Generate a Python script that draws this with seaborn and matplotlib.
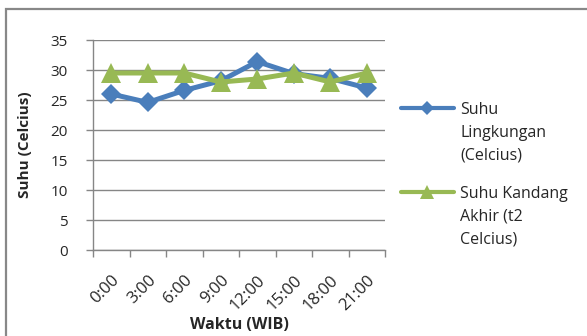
import matplotlib
matplotlib.use('Agg')
import matplotlib.pyplot as plt
import seaborn as sns
from matplotlib.lines import Line2D
from matplotlib.patches import Rectangle

# ---- data ----
times = ['0:00', '3:00', '6:00', '9:00', '12:00', '15:00', '18:00', '21:00']
suhu_lingkungan = [26.0, 24.6, 26.6, 28.2, 31.4, 29.4, 28.6, 27.0]
suhu_kandang = [29.5, 29.5, 29.5, 28.0, 28.5, 29.5, 28.0, 29.5]
legend_lines_1 = ['Suhu', 'Lingkungan', '(Celcius)']
legend_lines_2 = ['Suhu Kandang', 'Akhir (t2', 'Celcius)']
yticks = [0, 5, 10, 15, 20, 25, 30, 35]
xlabel = 'Waktu (WIB)'
ylabel = 'Suhu (Celcius)'

BLUE = '#4A7EBB'
GREEN = '#98B954'
GRID = '#868686'

sns.set_style('white')
plt.rcParams['font.family'] = ['Open Sans', 'DejaVu Sans']

W, H = 587, 336
fig = plt.figure(figsize=(W / 100, H / 100), dpi=100)
ax = fig.add_axes([93 / W, 86 / H, 292 / W, 210 / H])

sns.lineplot(x=times, y=suhu_lingkungan, color=BLUE, marker='D', markersize=10,
             markeredgewidth=0, linewidth=3.6, sort=False, ax=ax, zorder=3)
sns.lineplot(x=times, y=suhu_kandang, color=GREEN, marker='^', markersize=14.5,
             markeredgewidth=0, linewidth=3.6, sort=False, ax=ax, zorder=4)

ax.set_xlim(-0.5, len(times) - 0.5)
ax.set_ylim(0, 35)
ax.set_yticks(yticks)
ax.set_xticks(range(len(times)))
ax.set_xticklabels(times)
ax.set_xticks([i - 0.5 for i in range(len(times) + 1)], minor=True)

ax.yaxis.grid(True, color=GRID, linewidth=1)
ax.xaxis.grid(False)
for s in ['top', 'right']:
    ax.spines[s].set_visible(False)
for s in ['left', 'bottom']:
    ax.spines[s].set_color(GRID)
    ax.spines[s].set_linewidth(1)

ax.tick_params(axis='y', length=5, color=GRID, width=1, pad=13, labelsize=11, left=True)
ax.tick_params(axis='x', which='major', length=0, pad=16, labelsize=12, bottom=True)
ax.tick_params(axis='x', which='minor', length=5, color=GRID, width=1, bottom=True)
for lbl in ax.get_xticklabels():
    lbl.set_rotation(45)
    lbl.set_ha('right')
    lbl.set_va('top')
    lbl.set_rotation_mode('anchor')

ax.set_xlabel(xlabel, fontweight='bold', fontsize=11.5)
ax.xaxis.label.set_va('center')
ax.xaxis.set_label_coords(0.5, (250 - 325) / 210)
ax.set_ylabel(ylabel, fontweight='bold', fontsize=11)
ax.yaxis.label.set_va('center')
ax.yaxis.set_label_coords((25 - 93) / 292, 0.5)

# ---- legend (two stacked blocks) ----
def make_legend(lines, color, marker, ms, top_px):
    handles = [Line2D([], [], color=color, marker=marker, markersize=ms,
                      markeredgewidth=0, linewidth=3)]
    handles += [Line2D([], [], color='none') for _ in lines[1:]]
    leg = ax.legend(handles, lines, loc='upper left',
                    bbox_to_anchor=(401 / W, 1 - top_px / H),
                    bbox_transform=fig.transFigure, frameon=False,
                    fontsize=11.5, handlelength=3.3, handletextpad=0.4,
                    labelspacing=0.43, borderpad=0, borderaxespad=0)
    return leg

leg1 = make_legend(legend_lines_1, BLUE, 'D', 7, 102)
ax.add_artist(leg1)
leg2 = make_legend(legend_lines_2, GREEN, '^', 10, 186)

# ---- outer chart frame ----
fig.patches.append(Rectangle((6 / W, -0.2), 1.5, 1 - 9 / H + 0.2,
                             transform=fig.transFigure, fill=False,
                             edgecolor='#888888', linewidth=1.6, zorder=0))

fig.savefig('out.png', dpi=100)
